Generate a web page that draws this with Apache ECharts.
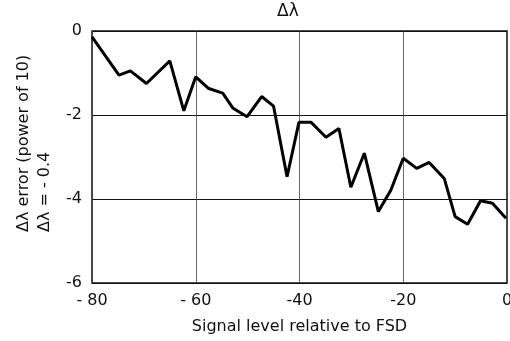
<!DOCTYPE html>
<html>
<head>
<meta charset="utf-8">
<script src="https://cdn.jsdelivr.net/npm/echarts@6/dist/echarts.min.js"></script>
<style>
body{margin:0;background:#fff;}
#main{width:510px;height:341px;}
</style>
</head>
<body>
<div id="main"></div>
<script>
// signal level (x) and error exponent (y)
var signalLevel = [-80, -74.8, -72.6, -69.5, -65, -62.3, -60, -57.5, -54.8, -52.8, -50.1, -47.3, -45, -42.4,
	-40.1, -37.8, -34.9, -32.4, -30.1, -27.5, -24.8, -22.4, -20, -17.4, -15, -12.1, -10, -7.6, -5.1, -2.8, -0.2];
var errorPower = [-0.14, -1.05, -0.95, -1.25, -0.71, -1.9, -1.09, -1.37, -1.48, -1.84, -2.04, -1.56, -1.79, -3.47,
	-2.17, -2.17, -2.53, -2.32, -3.72, -2.91, -4.3, -3.79, -3.03, -3.27, -3.13, -3.51, -4.42, -4.6, -4.04, -4.1, -4.46];
var xTickLabels = {'-80':'- 80', '-60':'- 60', '-40':'-40', '-20':'-20', '0':'0'};
var yTickLabels = {'0':'0', '-2':'-2', '-4':'-4', '-6':'-6'};

var pts = [];
for (var i = 0; i < signalLevel.length; i++) {
	pts.push([signalLevel[i], errorPower[i]]);
}

var fnt = 'DejaVu Sans';
var myChart = echarts.init(document.getElementById('main'), null, {renderer:'canvas'});
myChart.setOption({
	animation:false,
	backgroundColor:'#fff',
	grid:{left:92, right:3, top:31, bottom:58, outerBoundsMode:'none', containLabel:false,
		show:true, borderColor:'#111', borderWidth:1.5},
	xAxis:{
		type:'value', min:-80, max:0, interval:20,
		axisLine:{show:false}, axisTick:{show:false},
		splitLine:{show:true, lineStyle:{color:'#444', width:0.8}},
		axisLabel:{margin:10, color:'#111', fontFamily:fnt, fontSize:16,
			formatter:function(v){ return xTickLabels[String(v)]; }},
		name:'Signal level relative to FSD', nameLocation:'middle', nameGap:36,
		nameTextStyle:{color:'#111', fontFamily:fnt, fontSize:16}
	},
	yAxis:{
		type:'value', min:-6, max:0, interval:2,
		axisLine:{show:false}, axisTick:{show:false},
		splitLine:{show:true, lineStyle:{color:'#111', width:1}},
		axisLabel:{margin:10, color:'#111', fontFamily:fnt, fontSize:16,
			formatter:function(v){ return yTickLabels[String(v)]; }}
	},
	graphic:[
		{type:'text', left:277, top:3, style:{text:'Δλ', fill:'#111', font:'17px ' + fnt}},
		{type:'text', x:24, y:232, rotation:Math.PI/2,
			style:{text:'Δλ error (power of 10)', fill:'#111', font:'16px ' + fnt, align:'left', verticalAlign:'middle'}},
		{type:'text', x:45, y:232, rotation:Math.PI/2,
			style:{text:'Δλ = - 0.4', fill:'#111', font:'16px ' + fnt, align:'left', verticalAlign:'middle'}}
	],
	series:[{
		type:'line', data:pts, showSymbol:false,
		lineStyle:{color:'#000', width:3}
	}]
});
</script>
</body>
</html>
